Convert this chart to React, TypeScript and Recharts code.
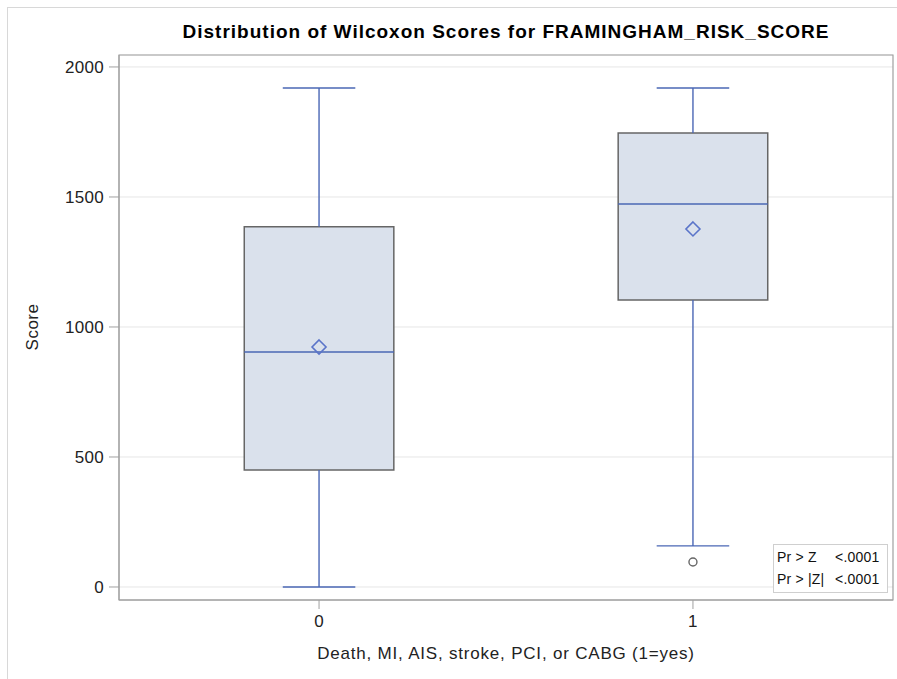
import React from 'react';
import {
  CartesianGrid,
  ComposedChart,
  ReferenceArea,
  ReferenceLine,
  Scatter,
  XAxis,
  YAxis,
} from 'recharts';

// box statistics, one entry per group
const groups = [0, 1];
const whiskerLow = [0, 158];
const q1 = [450, 1104];
const median = [904, 1473];
const q3 = [1385, 1746];
const whiskerHigh = [1919, 1919];
const means = [923, 1377];
const outlierGroups = [1];
const outlierScores = [96];

const yTicks = [0, 500, 1000, 1500, 2000];
const xTicks = [0, 1];
const testLabels = ['Pr > Z', 'Pr > |Z|'];
const testValues = ['<.0001', '<.0001'];

const FONT = '"Liberation Sans", Arial, sans-serif';
const BLUE = '#4a67b5';
const BOX_HALF = 0.2;
const CAP_HALF = 0.097;

const meanData = groups.map((g, i) => ({ x: g, y: means[i] }));
const outlierData = outlierGroups.map((g, i) => ({ x: g, y: outlierScores[i] }));

function Diamond(props: any) {
  const { cx, cy } = props;
  const r = 7;
  return (
    <path
      d={`M${cx},${cy - r}L${cx + r},${cy}L${cx},${cy + r}L${cx - r},${cy}Z`}
      fill="none"
      stroke="#5a74c9"
      strokeWidth={1.6}
    />
  );
}

function Ring(props: any) {
  const { cx, cy } = props;
  return <circle cx={cx} cy={cy} r={4} fill="none" stroke="#666" strokeWidth={1.4} />;
}

const tickStyle = { fill: '#222', fontSize: 17, fontFamily: FONT, letterSpacing: 0.3 };

export default function App() {
  return (
    <div style={{ position: 'absolute', left: 0, top: 0, width: 897, height: 679, background: '#fff', fontFamily: FONT }}>
      <div style={{ position: 'absolute', left: 7, top: 7, right: 0, bottom: 0, borderTop: '1px solid #d8d8d8', borderLeft: '1px solid #d8d8d8' }} />
      <ComposedChart width={897} height={679} margin={{ top: 55, right: 4, bottom: 49, left: 59 }}>
        <CartesianGrid horizontal vertical={false} stroke="#e6e6e6" />
        <XAxis
          type="number"
          dataKey="x"
          domain={[-0.535, 1.535]}
          ticks={xTicks}
          allowDataOverflow
          height={30}
          tickSize={9}
          tickMargin={6}
          stroke="#a0a0a0"
          tick={tickStyle}
        />
        <YAxis
          type="number"
          dataKey="y"
          domain={[-50, 2046]}
          ticks={yTicks}
          allowDataOverflow
          width={60}
          tickSize={10}
          tickMargin={5}
          stroke="#a0a0a0"
          tick={tickStyle}
        />
        <ReferenceArea x1={-0.535} x2={1.535} y1={-50} y2={2046} fill="none" stroke="#a0a0a0" strokeWidth={1.2} />
        {groups.map((g, i) => (
          <ReferenceLine
            key={`wl${g}`}
            segment={[{ x: g, y: whiskerLow[i] }, { x: g, y: q1[i] }]}
            stroke={BLUE}
            strokeWidth={1.4}
          />
        ))}
        {groups.map((g, i) => (
          <ReferenceLine
            key={`wh${g}`}
            segment={[{ x: g, y: q3[i] }, { x: g, y: whiskerHigh[i] }]}
            stroke={BLUE}
            strokeWidth={1.4}
          />
        ))}
        {groups.map((g, i) => (
          <ReferenceLine
            key={`cl${g}`}
            segment={[{ x: g - CAP_HALF, y: whiskerLow[i] }, { x: g + CAP_HALF, y: whiskerLow[i] }]}
            stroke={BLUE}
            strokeWidth={1.4}
          />
        ))}
        {groups.map((g, i) => (
          <ReferenceLine
            key={`ch${g}`}
            segment={[{ x: g - CAP_HALF, y: whiskerHigh[i] }, { x: g + CAP_HALF, y: whiskerHigh[i] }]}
            stroke={BLUE}
            strokeWidth={1.4}
          />
        ))}
        {groups.map((g, i) => (
          <ReferenceArea
            key={`box${g}`}
            x1={g - BOX_HALF}
            x2={g + BOX_HALF}
            y1={q1[i]}
            y2={q3[i]}
            fill="#dae1ec"
            fillOpacity={1}
            stroke="#666"
            strokeWidth={1.5}
          />
        ))}
        {groups.map((g, i) => (
          <ReferenceLine
            key={`med${g}`}
            segment={[{ x: g - BOX_HALF, y: median[i] }, { x: g + BOX_HALF, y: median[i] }]}
            stroke={BLUE}
            strokeWidth={1.4}
          />
        ))}
        <Scatter data={meanData} shape={<Diamond />} isAnimationActive={false} />
        <Scatter data={outlierData} shape={<Ring />} isAnimationActive={false} />
      </ComposedChart>

      <div
        style={{
          position: 'absolute',
          left: 0,
          width: 1012,
          top: 21,
          textAlign: 'center',
          fontSize: 19,
          fontWeight: 'bold',
          letterSpacing: 1,
          color: '#000',
          whiteSpace: 'nowrap',
        }}
      >
        Distribution of Wilcoxon Scores for FRAMINGHAM_RISK_SCORE
      </div>
      <div
        style={{
          position: 'absolute',
          left: 0,
          width: 1012,
          top: 644,
          textAlign: 'center',
          fontSize: 17,
          letterSpacing: 0.8,
          color: '#222',
          whiteSpace: 'nowrap',
        }}
      >
        Death, MI, AIS, stroke, PCI, or CABG (1=yes)
      </div>
      <div
        style={{
          position: 'absolute',
          left: 33,
          top: 327,
          transform: 'translate(-50%, -50%) rotate(-90deg)',
          fontSize: 17,
          letterSpacing: 0.5,
          color: '#222',
          whiteSpace: 'nowrap',
        }}
      >
        Score
      </div>
      <div
        style={{
          position: 'absolute',
          left: 773,
          top: 544,
          width: 113,
          height: 47,
          border: '1px solid #cfcfcf',
          background: '#fff',
          fontSize: 14,
          letterSpacing: 0.2,
          color: '#111',
        }}
      >
        {testLabels.map((t, i) => (
          <div key={t} style={{ position: 'absolute', left: 3, top: 4 + i * 22, whiteSpace: 'nowrap' }}>
            <span style={{ display: 'inline-block', width: 58 }}>{t}</span>
            <span>{testValues[i]}</span>
          </div>
        ))}
      </div>
    </div>
  );
}
